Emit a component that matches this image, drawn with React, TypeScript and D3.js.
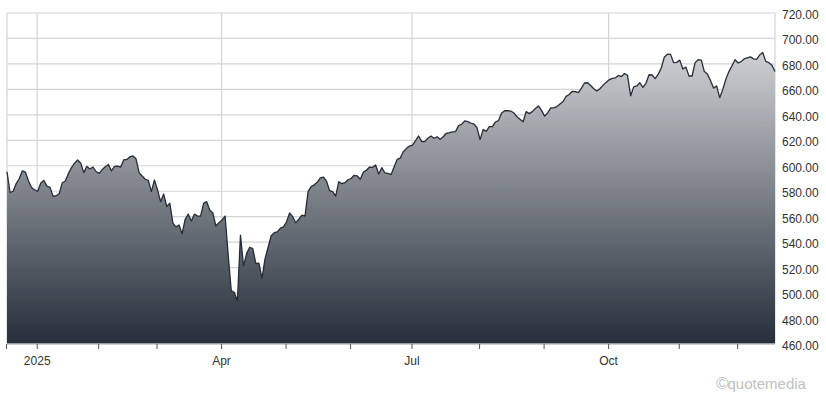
import React from "react";
import * as d3 from "d3";

// Daily closes, one array per month (trading days)
const dec2024 = [595.3, 579, 580, 586, 590, 596, 595, 588, 583, 581];
const jan2025 = [580, 586.5, 588.5, 584, 583, 576, 576.5, 578, 586.7, 588, 594, 598.5, 602, 604.5, 602, 594.6, 599.5, 597.5, 599, 595.5];
const feb2025 = [594, 597, 599.3, 601, 596, 599.5, 599.8, 599, 604.7, 605, 607, 607.7, 605.5, 594.6, 592, 589.4, 588.5, 579.7, 588.8];
const mar2025 = [581, 571.8, 577.8, 568, 570.5, 555, 552, 553.5, 546.5, 558, 562, 556.6, 562, 560.5, 560.5, 570.5, 571.8, 565.3, 563, 552.7, 555.3];
const apr2025 = [557.5, 560.5, 530, 502, 500.5, 494, 545.5, 521.3, 531, 536, 535, 523.4, 523.5, 511.6, 527, 536, 545, 547.4, 548, 551, 552];
const may2025 = [556, 563, 560, 555.3, 558, 561.3, 560.5, 579.7, 583.6, 585, 587, 590.5, 591, 588, 580.5, 579.7, 576.2, 587.5, 586, 586.7, 589];
const jun2025 = [590, 592.5, 592, 589.4, 595, 596.5, 599, 598.8, 600.6, 593.5, 598.5, 594.5, 594, 593, 599, 605, 606, 611, 613.5, 615.5];
const jul2025 = [616.3, 619.7, 623.4, 619, 619, 621.6, 623.4, 621.6, 622.8, 620.8, 622.8, 625.5, 626, 626.6, 626.8, 631.5, 632.6, 635.3, 634.7, 633.6, 632.8, 630];
const aug2025 = [620.5, 628.5, 627, 630.7, 630.7, 634.4, 635.5, 641.5, 643.2, 643.3, 643, 641.5, 638.5, 636.5, 634.6, 642.5, 641, 642.5, 645, 647, 643.5];
const sep2025 = [639, 641.5, 645.5, 645.5, 646.5, 648.5, 650.5, 654.5, 656, 658.5, 658.3, 657.5, 661, 665, 665.2, 663, 660.5, 658.7, 660.5, 663.2, 665.5];
const oct2025 = [667.5, 668.7, 669, 671, 670, 672.5, 671, 655, 662, 662.7, 665.2, 661.5, 664.8, 671.5, 671.3, 668.5, 672, 677, 685.5, 687.6, 687.5, 681, 681.2];
const nov2025 = [683, 676, 677.5, 670.5, 670.5, 681, 683.3, 683, 674, 672, 667, 661, 662.7, 653.5, 660, 668, 674, 678.5, 683.3];
const dec2025 = [680.7, 681.8, 684, 684.8, 685.5, 684, 683.6, 687, 689, 682, 681, 679, 674];

const months = [dec2024, jan2025, feb2025, mar2025, apr2025, may2025, jun2025, jul2025, aug2025, sep2025, oct2025, nov2025, dec2025];
const monthLabels = ["", "2025", "", "", "Apr", "", "", "Jul", "", "", "Oct", "", ""];
const yTicks = [460, 480, 500, 520, 540, 560, 580, 600, 620, 640, 660, 680, 700, 720];

const values: number[] = months.flat();
const monthStarts: number[] = [];
{
  let c = 0;
  for (const m of months) {
    monthStarts.push(c);
    c += m.length;
  }
}

const W = 826;
const H = 393;
const L = 7;
const R = 775;
const T = 13;
const B = 344;

export default function App() {
  const x = d3.scaleLinear().domain([0, values.length - 1]).range([L, R]);
  const y = d3.scaleLinear().domain([460, 720]).range([B, T]);
  const area = d3
    .area<number>()
    .x((_, i) => x(i))
    .y0(B)
    .y1((d) => y(d));
  const line = d3
    .line<number>()
    .x((_, i) => x(i))
    .y((d) => y(d));

  const font = "'Liberation Sans', Arial, sans-serif";

  return (
    <svg
      width={W}
      height={H}
      style={{ position: "absolute", left: 0, top: 0, background: "#fff" }}
    >
      <defs>
        <linearGradient id="fillg" gradientUnits="userSpaceOnUse" x1="0" y1={T} x2="0" y2={B}>
          <stop offset="0" stopColor="#e4e5e7" />
          <stop offset="1" stopColor="#252e3a" />
        </linearGradient>
      </defs>
      {/* horizontal grid */}
      {yTicks.map((t) => (
        <line key={"h" + t} x1={L} x2={R} y1={y(t)} y2={y(t)} stroke="#d4d4d4" strokeWidth={1.2} />
      ))}
      {/* vertical grid at labelled months */}
      {monthStarts.map((s, k) =>
        monthLabels[k] ? (
          <line key={"v" + k} x1={x(s) - 0.5} x2={x(s) - 0.5} y1={T} y2={B} stroke="#d4d4d4" strokeWidth={1.2} />
        ) : null
      )}
      {/* borders */}
      <line x1={L} x2={L} y1={T} y2={B} stroke="#d4d4d4" strokeWidth={1.2} />
      <line x1={R} x2={R} y1={T} y2={B} stroke="#d4d4d4" strokeWidth={1.2} />
      <path d={area(values) || ""} fill="url(#fillg)" />
      <path d={line(values) || ""} fill="none" stroke="#252d38" strokeWidth={1.3} strokeLinejoin="round" />
      {/* x axis */}
      <line x1={L} x2={R} y1={B} y2={B} stroke="#c4c4c4" strokeWidth={1.5} />
      {[0, ...monthStarts.slice(1)].map((s, k) => (
        <line key={"t" + k} x1={x(s) - 0.5} x2={x(s) - 0.5} y1={B} y2={B + 5} stroke="#555" strokeWidth={1} />
      ))}
      {monthStarts.map((s, k) =>
        monthLabels[k] ? (
          <text key={"xl" + k} x={x(s) - 0.5} y={365} textAnchor="middle" fontFamily={font} fontSize={12} fill="#333">
            {monthLabels[k]}
          </text>
        ) : null
      )}
      {yTicks.map((t) => (
        <text key={"yl" + t} x={782} y={y(t) + 6} fontFamily={font} fontSize={12} fill="#333">
          {t.toFixed(2)}
        </text>
      ))}
      <text x={716} y={389} fontFamily={font} fontSize={15} fill="#c0c0c0">
        <tspan fontSize={17}>©</tspan>
        <tspan dx={-1}>quotemedia</tspan>
      </text>
    </svg>
  );
}
